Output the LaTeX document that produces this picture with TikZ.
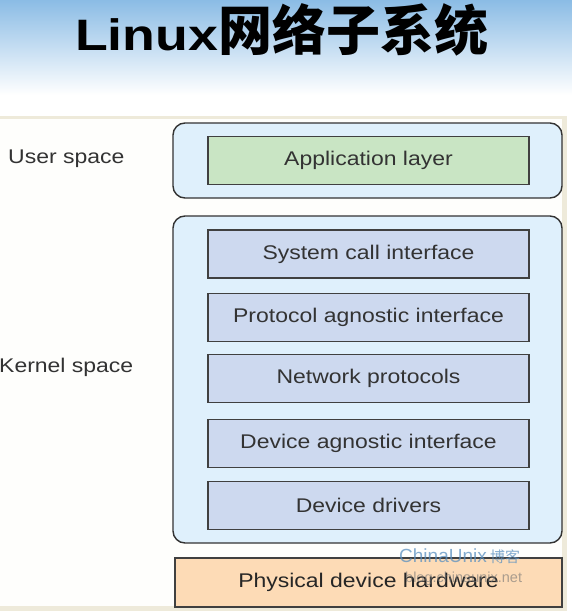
\documentclass[tikz,border=0pt]{standalone}
\usepackage{fontspec}
\setmainfont{Liberation Sans}
\newfontfamily\boxfont[FakeStretch=1.16]{Liberation Sans}
\newfontfamily\titlefont[FakeStretch=1.22]{Liberation Sans Bold}
\newfontfamily\cjk{Noto Sans CJK SC}
\definecolor{skyblue}{HTML}{8BBCE5}
\definecolor{framecream}{HTML}{EEEADA}
\definecolor{paper}{HTML}{FEFEFC}
\definecolor{spaceblue}{HTML}{DFF0FC}
\definecolor{layerblue}{HTML}{CDD9EF}
\definecolor{appgreen}{HTML}{C9E5C4}
\definecolor{hwpeach}{HTML}{FDDBB6}
\definecolor{wmblue}{HTML}{5A90C0}

\begin{document}
\begin{tikzpicture}[x=1pt,y=-1pt]
    \tikzstyle{space box}=[draw=black!80,line width=1.4pt,rounded corners=12pt,fill=spaceblue,inner sep=0pt]
    \tikzstyle{layer}=[draw=black!75,line width=1.6pt,fill=layerblue,minimum width=321pt,minimum height=48pt,inner sep=0pt,text=black!80,font=\boxfont\fontsize{19.8}{22}\selectfont]
    \tikzstyle{app layer}=[layer, fill=appgreen];
    \tikzstyle{hw layer}=[layer, fill=hwpeach, minimum width=387pt, minimum height=49pt, text=black!85];
    \tikzstyle{annot}=[anchor=base west,inner sep=0pt,text=black!80,font=\boxfont\fontsize{19.8}{22}\selectfont]

    \useasboundingbox (0,0) rectangle (572,611);
    % Background: blue fade at the top, framed figure below
    \shade[top color=skyblue,bottom color=white] (0,0) rectangle (572,95);
    \fill[white] (0,95) rectangle (572,611);
    \fill[framecream] (0,116) rectangle (567,611);
    \fill[paper] (0,119) rectangle (562,606);

    % Title
    \node[anchor=base west,inner sep=0pt] (title) at (75,50)
        {\titlefont\fontsize{44}{48}\selectfont Linux{\cjk\bfseries\fontsize{54}{58}\selectfont 网络子系统}};

    % Draw the user space and kernel space boxes
    \node[space box, minimum width=389pt, minimum height=75pt] (U) at (367.5,160.5) {};
    \node[space box, minimum width=389pt, minimum height=327pt] (K) at (367.5,379.5) {};

    % Draw the layers
    \node[app layer] (A) at (368.5,160.5) {Application layer};
    \foreach \name/\y/\txt in {1/254/System call interface,2/317.5/Protocol agnostic interface,3/378.5/Network protocols,4/443.5/Device agnostic interface,5/505.5/Device drivers}
        \node[layer] (L-\name) at (368.5,\y) {\txt};
    \node[hw layer] (H) at (368.5,582.5) {Physical device hardware};

    % Annotate the spaces
    \node[annot] (us) at (8,163) {User space};
    \node[annot] (ks) at (-1,372) {Kernel space};

    % Watermark
    \node[anchor=base west,inner sep=0pt,text=wmblue,opacity=0.75,font=\fontsize{19}{20}\selectfont] (wm) at (399,562) {ChinaUnix{\cjk\fontsize{15}{16}\selectfont\ 博客}};
    \node[anchor=base west,inner sep=0pt,text=black!55,opacity=0.6,font=\fontsize{14.5}{16}\selectfont] (wmurl) at (405,582) {blog.chinaunix.net};
\end{tikzpicture}
\end{document}
